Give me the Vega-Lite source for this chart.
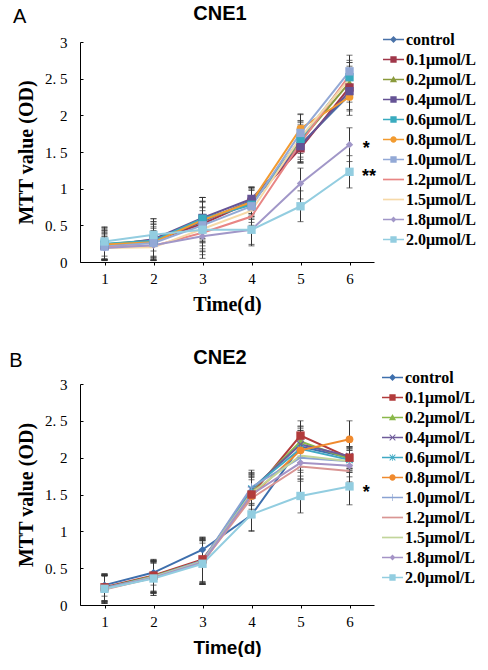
{
  "$schema": "https://vega.github.io/schema/vega-lite/v6.json",
  "background": "white",
  "padding": {"left": 9, "top": 4, "right": 0, "bottom": 0},
  "spacing": 34,
  "config": {"view": {"stroke": null}, "axis": {"grid": false}},
  "datasets": {
    "cne1": [
      {"s":"control","d":1,"v":0.22,"e":0.18},{"s":"control","d":2,"v":0.28,"e":0.2},{"s":"control","d":3,"v":0.55,"e":0.28},{"s":"control","d":4,"v":0.84,"e":0.18},{"s":"control","d":5,"v":1.6,"e":0.25},{"s":"control","d":6,"v":2.28,"e":0.22},
      {"s":"0.1μmol/L","d":1,"v":0.23,"e":0.2},{"s":"0.1μmol/L","d":2,"v":0.29,"e":0.22},{"s":"0.1μmol/L","d":3,"v":0.52,"e":0.3},{"s":"0.1μmol/L","d":4,"v":0.82,"e":0.2},{"s":"0.1μmol/L","d":5,"v":1.55,"e":0.2},{"s":"0.1μmol/L","d":6,"v":2.38,"e":0.2},
      {"s":"0.2μmol/L","d":1,"v":0.24,"e":0.22},{"s":"0.2μmol/L","d":2,"v":0.3,"e":0.25},{"s":"0.2μmol/L","d":3,"v":0.58,"e":0.3},{"s":"0.2μmol/L","d":4,"v":0.8,"e":0.2},{"s":"0.2μmol/L","d":5,"v":1.65,"e":0.25},{"s":"0.2μmol/L","d":6,"v":2.45,"e":0.22},
      {"s":"0.4μmol/L","d":1,"v":0.22,"e":0.2},{"s":"0.4μmol/L","d":2,"v":0.31,"e":0.28},{"s":"0.4μmol/L","d":3,"v":0.6,"e":0.28},{"s":"0.4μmol/L","d":4,"v":0.86,"e":0.16},{"s":"0.4μmol/L","d":5,"v":1.58,"e":0.22},{"s":"0.4μmol/L","d":6,"v":2.33,"e":0.25},
      {"s":"0.6μmol/L","d":1,"v":0.25,"e":0.22},{"s":"0.6μmol/L","d":2,"v":0.29,"e":0.26},{"s":"0.6μmol/L","d":3,"v":0.59,"e":0.29},{"s":"0.6μmol/L","d":4,"v":0.78,"e":0.2},{"s":"0.6μmol/L","d":5,"v":1.68,"e":0.25},{"s":"0.6μmol/L","d":6,"v":2.52,"e":0.2},
      {"s":"0.8μmol/L","d":1,"v":0.24,"e":0.2},{"s":"0.8μmol/L","d":2,"v":0.27,"e":0.25},{"s":"0.8μmol/L","d":3,"v":0.57,"e":0.31},{"s":"0.8μmol/L","d":4,"v":0.82,"e":0.2},{"s":"0.8μmol/L","d":5,"v":1.82,"e":0.2},{"s":"0.8μmol/L","d":6,"v":2.25,"e":0.25},
      {"s":"1.0μmol/L","d":1,"v":0.21,"e":0.18},{"s":"1.0μmol/L","d":2,"v":0.26,"e":0.2},{"s":"1.0μmol/L","d":3,"v":0.5,"e":0.32},{"s":"1.0μmol/L","d":4,"v":0.76,"e":0.22},{"s":"1.0μmol/L","d":5,"v":1.76,"e":0.25},{"s":"1.0μmol/L","d":6,"v":2.6,"e":0.22},
      {"s":"1.2μmol/L","d":1,"v":0.2,"e":0.17},{"s":"1.2μmol/L","d":2,"v":0.22,"e":0.2},{"s":"1.2μmol/L","d":3,"v":0.4,"e":0.3},{"s":"1.2μmol/L","d":4,"v":0.62,"e":0.2},{"s":"1.2μmol/L","d":5,"v":1.62,"e":0.25},{"s":"1.2μmol/L","d":6,"v":2.55,"e":0.2},
      {"s":"1.5μmol/L","d":1,"v":0.19,"e":0.16},{"s":"1.5μmol/L","d":2,"v":0.2,"e":0.18},{"s":"1.5μmol/L","d":3,"v":0.45,"e":0.3},{"s":"1.5μmol/L","d":4,"v":0.7,"e":0.2},{"s":"1.5μmol/L","d":5,"v":1.7,"e":0.22},{"s":"1.5μmol/L","d":6,"v":2.5,"e":0.22},
      {"s":"1.8μmol/L","d":1,"v":0.19,"e":0.15},{"s":"1.8μmol/L","d":2,"v":0.23,"e":0.2},{"s":"1.8μmol/L","d":3,"v":0.35,"e":0.3},{"s":"1.8μmol/L","d":4,"v":0.44,"e":0.2},{"s":"1.8μmol/L","d":5,"v":1.07,"e":0.21},{"s":"1.8μmol/L","d":6,"v":1.6,"e":0.23},
      {"s":"2.0μmol/L","d":1,"v":0.28,"e":0.2},{"s":"2.0μmol/L","d":2,"v":0.37,"e":0.22},{"s":"2.0μmol/L","d":3,"v":0.44,"e":0.3},{"s":"2.0μmol/L","d":4,"v":0.44,"e":0.22},{"s":"2.0μmol/L","d":5,"v":0.76,"e":0.21},{"s":"2.0μmol/L","d":6,"v":1.23,"e":0.22}
    ],
    "cne2": [
      {"s":"control","d":1,"v":0.27,"e":0.15},{"s":"control","d":2,"v":0.44,"e":0.17},{"s":"control","d":3,"v":0.75,"e":0.17},{"s":"control","d":4,"v":1.22,"e":0.22},{"s":"control","d":5,"v":2.15,"e":0.22},{"s":"control","d":6,"v":2.0,"e":0.15},
      {"s":"0.1μmol/L","d":1,"v":0.24,"e":0.18},{"s":"0.1μmol/L","d":2,"v":0.4,"e":0.22},{"s":"0.1μmol/L","d":3,"v":0.62,"e":0.3},{"s":"0.1μmol/L","d":4,"v":1.5,"e":0.25},{"s":"0.1μmol/L","d":5,"v":2.3,"e":0.2},{"s":"0.1μmol/L","d":6,"v":2.0,"e":0.15},
      {"s":"0.2μmol/L","d":1,"v":0.23,"e":0.18},{"s":"0.2μmol/L","d":2,"v":0.39,"e":0.2},{"s":"0.2μmol/L","d":3,"v":0.6,"e":0.3},{"s":"0.2μmol/L","d":4,"v":1.55,"e":0.25},{"s":"0.2μmol/L","d":5,"v":2.22,"e":0.2},{"s":"0.2μmol/L","d":6,"v":1.98,"e":0.15},
      {"s":"0.4μmol/L","d":1,"v":0.22,"e":0.18},{"s":"0.4μmol/L","d":2,"v":0.38,"e":0.22},{"s":"0.4μmol/L","d":3,"v":0.6,"e":0.3},{"s":"0.4μmol/L","d":4,"v":1.57,"e":0.22},{"s":"0.4μmol/L","d":5,"v":2.18,"e":0.25},{"s":"0.4μmol/L","d":6,"v":2.02,"e":0.12},
      {"s":"0.6μmol/L","d":1,"v":0.23,"e":0.17},{"s":"0.6μmol/L","d":2,"v":0.38,"e":0.2},{"s":"0.6μmol/L","d":3,"v":0.59,"e":0.28},{"s":"0.6μmol/L","d":4,"v":1.58,"e":0.2},{"s":"0.6μmol/L","d":5,"v":2.12,"e":0.25},{"s":"0.6μmol/L","d":6,"v":1.97,"e":0.15},
      {"s":"0.8μmol/L","d":1,"v":0.22,"e":0.2},{"s":"0.8μmol/L","d":2,"v":0.37,"e":0.24},{"s":"0.8μmol/L","d":3,"v":0.58,"e":0.3},{"s":"0.8μmol/L","d":4,"v":1.48,"e":0.25},{"s":"0.8μmol/L","d":5,"v":2.1,"e":0.3},{"s":"0.8μmol/L","d":6,"v":2.25,"e":0.25},
      {"s":"1.0μmol/L","d":1,"v":0.22,"e":0.18},{"s":"1.0μmol/L","d":2,"v":0.38,"e":0.22},{"s":"1.0μmol/L","d":3,"v":0.6,"e":0.31},{"s":"1.0μmol/L","d":4,"v":1.6,"e":0.23},{"s":"1.0μmol/L","d":5,"v":2.0,"e":0.25},{"s":"1.0μmol/L","d":6,"v":1.95,"e":0.15},
      {"s":"1.2μmol/L","d":1,"v":0.21,"e":0.18},{"s":"1.2μmol/L","d":2,"v":0.37,"e":0.2},{"s":"1.2μmol/L","d":3,"v":0.58,"e":0.3},{"s":"1.2μmol/L","d":4,"v":1.45,"e":0.25},{"s":"1.2μmol/L","d":5,"v":1.88,"e":0.2},{"s":"1.2μmol/L","d":6,"v":1.82,"e":0.15},
      {"s":"1.5μmol/L","d":1,"v":0.22,"e":0.18},{"s":"1.5μmol/L","d":2,"v":0.38,"e":0.22},{"s":"1.5μmol/L","d":3,"v":0.59,"e":0.3},{"s":"1.5μmol/L","d":4,"v":1.52,"e":0.25},{"s":"1.5μmol/L","d":5,"v":2.03,"e":0.2},{"s":"1.5μmol/L","d":6,"v":1.95,"e":0.15},
      {"s":"1.8μmol/L","d":1,"v":0.23,"e":0.18},{"s":"1.8μmol/L","d":2,"v":0.37,"e":0.2},{"s":"1.8μmol/L","d":3,"v":0.58,"e":0.3},{"s":"1.8μmol/L","d":4,"v":1.5,"e":0.25},{"s":"1.8μmol/L","d":5,"v":1.93,"e":0.22},{"s":"1.8μmol/L","d":6,"v":1.89,"e":0.15},
      {"s":"2.0μmol/L","d":1,"v":0.22,"e":0.2},{"s":"2.0μmol/L","d":2,"v":0.36,"e":0.23},{"s":"2.0μmol/L","d":3,"v":0.56,"e":0.28},{"s":"2.0μmol/L","d":4,"v":1.23,"e":0.22},{"s":"2.0μmol/L","d":5,"v":1.48,"e":0.23},{"s":"2.0μmol/L","d":6,"v":1.61,"e":0.25}
    ]
  },
  "vconcat": [
    {
      "width": 294,
      "height": 220,
      "title": {"text": "CNE1", "font": "Liberation Sans", "fontSize": 20, "fontWeight": "bold", "color": "black", "anchor": "middle", "dx": -7, "offset": -17},
      "data": {"name": "cne1"},
      "encoding": {
        "x": {"field": "d", "type": "quantitative", "scale": {"domain": [0.5, 6.5], "nice": false, "zero": false},
          "axis": {"values": [1, 2, 3, 4, 5, 6], "format": "d", "title": "Time(d)", "titleFont": "Liberation Serif", "titleFontSize": 20, "titleFontWeight": "bold", "titleColor": "black", "titlePadding": 8,
            "labelFont": "Liberation Serif", "labelFontSize": 15, "labelColor": "black", "labelPadding": 6, "tickSize": 3, "tickColor": "black", "domainColor": "black"}},
        "y": {"field": "v", "type": "quantitative", "scale": {"domain": [0, 3], "nice": false},
          "axis": {"values": [0, 0.5, 1, 1.5, 2, 2.5, 3], "labelExpr": "replace(format(datum.value, '.1~f'), '.', '. ')", "title": "MTT value (OD)", "titleFont": "Liberation Serif", "titleFontSize": 20, "titleFontWeight": "bold", "titleColor": "black", "titlePadding": 8,
            "labelFont": "Liberation Serif", "labelFontSize": 15, "labelColor": "black", "labelPadding": 16, "tickSize": -3, "tickColor": "black", "domainColor": "black"}}
      },
      "layer": [
        {
          "transform": [{"filter": "false"}],
          "mark": {"type": "point", "filled": true, "opacity": 1},
          "encoding": {
            "color": {"field": "s", "type": "nominal",
              "scale": {"domain": ["control", "0.1μmol/L", "0.2μmol/L", "0.4μmol/L", "0.6μmol/L", "0.8μmol/L", "1.0μmol/L", "1.2μmol/L", "1.5μmol/L", "1.8μmol/L", "2.0μmol/L"],
                "range": ["#4a72a8", "#a0374a", "#8a9a3c", "#655395", "#3aabbf", "#f29b30", "#93a9d6", "#e88584", "#f6d9a8", "#a197c8", "#93cde0"]},
              "legend": {"title": null, "orient": "none", "legendX": 303, "legendY": -13, "padding": 0, "rowPadding": 1, "labelOffset": 2, "symbolSize": 441, "symbolStrokeWidth": 0, "symbolOpacity": 1, "labelFont": "Liberation Serif", "labelFontSize": 16, "labelFontWeight": "bold", "labelColor": "black", "labelLimit": 200}},
            "shape": {"field": "s", "type": "nominal",
              "scale": {"domain": ["control", "0.1μmol/L", "0.2μmol/L", "0.4μmol/L", "0.6μmol/L", "0.8μmol/L", "1.0μmol/L", "1.2μmol/L", "1.5μmol/L", "1.8μmol/L", "2.0μmol/L"],
                "range": [
                  "M-1,-0.08H1V0.08H-1Z M0,-0.33L0.33,0L0,0.33L-0.33,0Z",
                  "M-1,-0.08H1V0.08H-1Z M-0.3,-0.3H0.3V0.3H-0.3Z",
                  "M-1,-0.08H1V0.08H-1Z M0,-0.34L0.34,0.26H-0.34Z",
                  "M-1,-0.08H1V0.08H-1Z M-0.3,-0.3H0.3V0.3H-0.3Z",
                  "M-1,-0.08H1V0.08H-1Z M-0.3,-0.3H0.3V0.3H-0.3Z",
                  "M-1,-0.08H1V0.08H-1Z M-0.3,0A0.3,0.3 0 1,1 0.3,0A0.3,0.3 0 1,1 -0.3,0Z",
                  "M-1,-0.08H1V0.08H-1Z M-0.3,-0.3H0.3V0.3H-0.3Z",
                  "M-1,-0.08H1V0.08H-1Z",
                  "M-1,-0.08H1V0.08H-1Z",
                  "M-1,-0.08H1V0.08H-1Z M0,-0.28L0.28,0L0,0.28L-0.28,0Z",
                  "M-1,-0.08H1V0.08H-1Z M-0.3,-0.3H0.3V0.3H-0.3Z"
                ]},
              "legend": {"title": null, "orient": "none", "legendX": 303, "legendY": -13, "padding": 0, "rowPadding": 1, "labelOffset": 2, "symbolSize": 441, "symbolStrokeWidth": 0, "symbolOpacity": 1, "labelFont": "Liberation Serif", "labelFontSize": 16, "labelFontWeight": "bold", "labelColor": "black", "labelLimit": 200}}
          }
        },
        {
          "mark": {"type": "errorbar", "color": "#333333", "thickness": 1, "ticks": {"size": 6}},
          "encoding": {"yError": {"field": "e"}}
        },
        {
          "mark": {"type": "line", "strokeWidth": 2},
          "encoding": {"color": {"field": "s", "type": "nominal"}}
        },
        {
          "transform": [{"filter": {"field": "s", "oneOf": ["control", "1.8μmol/L"]}}],
          "mark": {"type": "point", "shape": "diamond", "filled": true, "opacity": 1, "size": 55},
          "encoding": {"color": {"field": "s", "type": "nominal"}}
        },
        {
          "transform": [{"filter": {"field": "s", "oneOf": ["0.2μmol/L"]}}],
          "mark": {"type": "point", "shape": "triangle-up", "filled": true, "opacity": 1, "size": 50},
          "encoding": {"color": {"field": "s", "type": "nominal"}}
        },
        {
          "transform": [{"filter": {"field": "s", "oneOf": ["0.8μmol/L"]}}],
          "mark": {"type": "point", "shape": "circle", "filled": true, "opacity": 1, "size": 60},
          "encoding": {"color": {"field": "s", "type": "nominal"}}
        },
        {
          "transform": [{"filter": {"field": "s", "oneOf": ["0.1μmol/L", "0.4μmol/L", "0.6μmol/L", "1.0μmol/L", "2.0μmol/L"]}}],
          "mark": {"type": "point", "shape": "square", "filled": true, "opacity": 1, "size": 70},
          "encoding": {"color": {"field": "s", "type": "nominal"}}
        },
        {
          "data": {"values": [{"d": 6.34, "v": 1.6, "t": "*"}, {"d": 6.4, "v": 1.21, "t": "**"}]},
          "mark": {"type": "text", "font": "Liberation Sans", "fontSize": 18, "fontWeight": "bold", "color": "black", "baseline": "middle", "dy": 4},
          "encoding": {"text": {"field": "t"}}
        },
        {
          "data": {"values": [{"d": -0.73, "v": 3.34, "t": "A"}]},
          "mark": {"type": "text", "font": "Liberation Sans", "fontSize": 20, "color": "black", "baseline": "middle"},
          "encoding": {"text": {"field": "t"}}
        }
      ]
    },
    {
      "width": 294,
      "height": 221,
      "title": {"text": "CNE2", "font": "Liberation Sans", "fontSize": 20, "fontWeight": "bold", "color": "black", "anchor": "middle", "dx": -7, "offset": -17},
      "data": {"name": "cne2"},
      "encoding": {
        "x": {"field": "d", "type": "quantitative", "scale": {"domain": [0.5, 6.5], "nice": false, "zero": false},
          "axis": {"values": [1, 2, 3, 4, 5, 6], "format": "d", "title": "Time(d)", "titleFont": "Liberation Sans", "titleFontSize": 19, "titleFontWeight": "bold", "titleColor": "black", "titlePadding": 9,
            "labelFont": "Liberation Serif", "labelFontSize": 15, "labelColor": "black", "labelPadding": 6, "tickSize": 3, "tickColor": "black", "domainColor": "black"}},
        "y": {"field": "v", "type": "quantitative", "scale": {"domain": [0, 3], "nice": false},
          "axis": {"values": [0, 0.5, 1, 1.5, 2, 2.5, 3], "labelExpr": "replace(format(datum.value, '.1~f'), '.', '. ')", "title": "MTT value (OD)", "titleFont": "Liberation Serif", "titleFontSize": 20, "titleFontWeight": "bold", "titleColor": "black", "titlePadding": 8,
            "labelFont": "Liberation Serif", "labelFontSize": 15, "labelColor": "black", "labelPadding": 16, "tickSize": -3, "tickColor": "black", "domainColor": "black"}}
      },
      "layer": [
        {
          "transform": [{"filter": "false"}],
          "mark": {"type": "point", "filled": true, "opacity": 1},
          "encoding": {
            "color": {"field": "s", "type": "nominal",
              "scale": {"domain": ["control", "0.1μmol/L", "0.2μmol/L", "0.4μmol/L", "0.6μmol/L", "0.8μmol/L", "1.0μmol/L", "1.2μmol/L", "1.5μmol/L", "1.8μmol/L", "2.0μmol/L"],
                "range": ["#3e6fad", "#b23b3b", "#8ab84a", "#6e5b9a", "#3fa9c4", "#f08a2e", "#8aa2d2", "#d99593", "#c2d59a", "#a493c6", "#92cde0"]},
              "legend": {"title": null, "orient": "none", "legendX": 302, "legendY": -17, "padding": 0, "rowPadding": 1, "labelOffset": 2, "symbolSize": 441, "symbolStrokeWidth": 0, "symbolOpacity": 1, "labelFont": "Liberation Serif", "labelFontSize": 16, "labelFontWeight": "bold", "labelColor": "black", "labelLimit": 200}},
            "shape": {"field": "s", "type": "nominal",
              "scale": {"domain": ["control", "0.1μmol/L", "0.2μmol/L", "0.4μmol/L", "0.6μmol/L", "0.8μmol/L", "1.0μmol/L", "1.2μmol/L", "1.5μmol/L", "1.8μmol/L", "2.0μmol/L"],
                "range": [
                  "M-1,-0.08H1V0.08H-1Z M0,-0.33L0.33,0L0,0.33L-0.33,0Z",
                  "M-1,-0.08H1V0.08H-1Z M-0.3,-0.3H0.3V0.3H-0.3Z",
                  "M-1,-0.08H1V0.08H-1Z M0,-0.34L0.34,0.26H-0.34Z",
                  "M-1,-0.08H1V0.08H-1Z M-0.3,-0.24L-0.24,-0.3L0.3,0.24L0.24,0.3Z M0.24,-0.3L0.3,-0.24L-0.24,0.3L-0.3,0.24Z",
                  "M-1,-0.08H1V0.08H-1Z M-0.3,-0.24L-0.24,-0.3L0.3,0.24L0.24,0.3Z M0.24,-0.3L0.3,-0.24L-0.24,0.3L-0.3,0.24Z M-0.03,-0.34H0.03V0.34H-0.03Z",
                  "M-1,-0.08H1V0.08H-1Z M-0.3,0A0.3,0.3 0 1,1 0.3,0A0.3,0.3 0 1,1 -0.3,0Z",
                  "M-1,-0.08H1V0.08H-1Z M-0.03,-0.34H0.03V0.34H-0.03Z",
                  "M-1,-0.08H1V0.08H-1Z",
                  "M-1,-0.08H1V0.08H-1Z",
                  "M-1,-0.08H1V0.08H-1Z M0,-0.28L0.28,0L0,0.28L-0.28,0Z",
                  "M-1,-0.08H1V0.08H-1Z M-0.3,-0.3H0.3V0.3H-0.3Z"
                ]},
              "legend": {"title": null, "orient": "none", "legendX": 302, "legendY": -17, "padding": 0, "rowPadding": 1, "labelOffset": 2, "symbolSize": 441, "symbolStrokeWidth": 0, "symbolOpacity": 1, "labelFont": "Liberation Serif", "labelFontSize": 16, "labelFontWeight": "bold", "labelColor": "black", "labelLimit": 200}}
          }
        },
        {
          "mark": {"type": "errorbar", "color": "#333333", "thickness": 1, "ticks": {"size": 6}},
          "encoding": {"yError": {"field": "e"}}
        },
        {
          "mark": {"type": "line", "strokeWidth": 2},
          "encoding": {"color": {"field": "s", "type": "nominal"}}
        },
        {
          "transform": [{"filter": {"field": "s", "oneOf": ["control", "1.8μmol/L"]}}],
          "mark": {"type": "point", "shape": "diamond", "filled": true, "opacity": 1, "size": 55},
          "encoding": {"color": {"field": "s", "type": "nominal"}}
        },
        {
          "transform": [{"filter": {"field": "s", "oneOf": ["0.2μmol/L"]}}],
          "mark": {"type": "point", "shape": "triangle-up", "filled": true, "opacity": 1, "size": 50},
          "encoding": {"color": {"field": "s", "type": "nominal"}}
        },
        {
          "transform": [{"filter": {"field": "s", "oneOf": ["0.4μmol/L"]}}],
          "mark": {"type": "point", "shape": "M-1,-0.75L-0.75,-1L1,0.75L0.75,1Z M0.75,-1L1,-0.75L-0.75,1L-1,0.75Z", "filled": true, "opacity": 1, "size": 55},
          "encoding": {"color": {"field": "s", "type": "nominal"}}
        },
        {
          "transform": [{"filter": {"field": "s", "oneOf": ["0.6μmol/L"]}}],
          "mark": {"type": "point", "shape": "M-1,-0.75L-0.75,-1L1,0.75L0.75,1Z M0.75,-1L1,-0.75L-0.75,1L-1,0.75Z M-0.12,-1H0.12V1H-0.12Z", "filled": true, "opacity": 1, "size": 55},
          "encoding": {"color": {"field": "s", "type": "nominal"}}
        },
        {
          "transform": [{"filter": {"field": "s", "oneOf": ["1.0μmol/L"]}}],
          "mark": {"type": "point", "shape": "M-1,-0.12H1V0.12H-1Z M-0.12,-1H0.12V1H-0.12Z", "filled": true, "opacity": 1, "size": 60},
          "encoding": {"color": {"field": "s", "type": "nominal"}}
        },
        {
          "transform": [{"filter": {"field": "s", "oneOf": ["0.8μmol/L"]}}],
          "mark": {"type": "point", "shape": "circle", "filled": true, "opacity": 1, "size": 60},
          "encoding": {"color": {"field": "s", "type": "nominal"}}
        },
        {
          "transform": [{"filter": {"field": "s", "oneOf": ["0.1μmol/L", "2.0μmol/L"]}}],
          "mark": {"type": "point", "shape": "square", "filled": true, "opacity": 1, "size": 70},
          "encoding": {"color": {"field": "s", "type": "nominal"}}
        },
        {
          "data": {"values": [{"d": 6.34, "v": 1.58, "t": "*"}]},
          "mark": {"type": "text", "font": "Liberation Sans", "fontSize": 18, "fontWeight": "bold", "color": "black", "baseline": "middle", "dy": 4},
          "encoding": {"text": {"field": "t"}}
        },
        {
          "data": {"values": [{"d": -0.81, "v": 3.31, "t": "B"}]},
          "mark": {"type": "text", "font": "Liberation Sans", "fontSize": 20, "color": "black", "baseline": "middle"},
          "encoding": {"text": {"field": "t"}}
        }
      ]
    }
  ],
  "resolve": {"scale": {"color": "independent", "shape": "independent"}, "legend": {"color": "independent", "shape": "independent"}}
}
